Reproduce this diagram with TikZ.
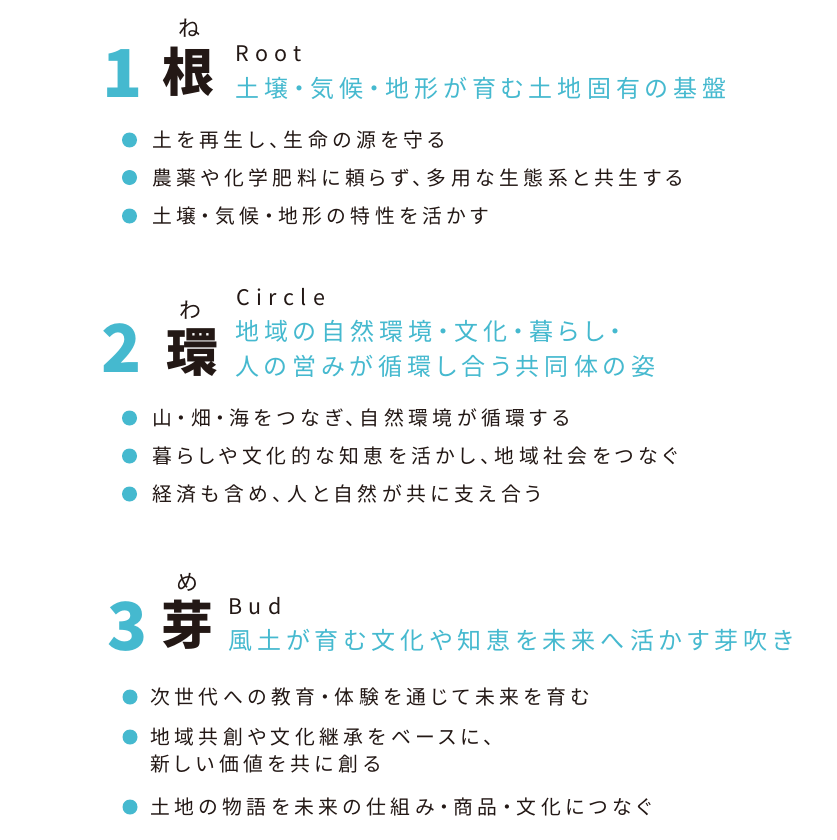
\documentclass[tikz,border=0pt]{standalone}
\usepackage{fontspec}
\setmainfont{Noto Sans CJK JP}
\newfontfamily\itemfont[RawFeature=+palt,LetterSpace=23]{Noto Sans CJK JP}
\newfontfamily\leadfont[RawFeature=+palt,LetterSpace=21]{Noto Sans CJK JP}
\newfontfamily\engfont[LetterSpace=30]{Noto Sans CJK JP}
\definecolor{leadblue}{HTML}{45B9CF}
\definecolor{inkdark}{HTML}{231815}
\tikzset{
  numlabel/.style={text=leadblue, font=\fontsize{66}{70}\selectfont\bfseries, inner sep=0},
  kanji/.style={text=inkdark, font=\fontsize{52}{54}\selectfont\bfseries, inner sep=0},
  ruby/.style={text=inkdark, font=\fontsize{22}{24}\selectfont, inner sep=0},
  eng/.style={text=inkdark, font=\engfont\fontsize{21.5}{24}\selectfont, anchor=west, inner sep=0},
  lead/.style={text=leadblue, font=\leadfont\fontsize{24}{28}\selectfont, anchor=west, inner sep=0},
  item/.style={text=inkdark, font=\itemfont\fontsize{19.8}{28}\selectfont, anchor=west, inner sep=0},
  bulletdot/.style={circle, fill=leadblue, minimum size=15pt, inner sep=0}
}
\begin{document}
\begin{tikzpicture}[x=1pt, y=-1pt]
\useasboundingbox[fill=white] (0,0) rectangle (837,840);
% Root
\node[ruby] (ne) at (189,28) {ね};
\node[numlabel] (n1) at (123,74) {1};
\node[kanji] (root) at (188,72) {根};
\node[eng] (rooten) at (235,54) {Root};
\node[lead] (rootlead) at (235,88) {土壌・気候・地形が育む土地固有の基盤};
\node[bulletdot] (b11) at (129.5,140) {};
\node[item] (t11) at (152,140) {土を再生し、生命の源を守る};
\node[bulletdot] (b12) at (129.5,177.5) {};
\node[item] (t12) at (152,177.5) {農薬や化学肥料に頼らず、多用な生態系と共生する};
\node[bulletdot] (b13) at (129.5,216) {};
\node[item] (t13) at (152,216) {土壌・気候・地形の特性を活かす};
% Circle
\node[ruby] (wa) at (190,310) {わ};
\node[numlabel] (n2) at (122,348) {2};
\node[kanji] (circ) at (192,353) {環};
\node[eng] (circen) at (236,297) {Circle};
\node[lead] (circlead) at (235,331) {地域の自然環境・文化・暮らし・};
\node[lead] (circleadb) at (235,366) {人の営みが循環し合う共同体の姿};
\node[bulletdot] (b21) at (129.5,418) {};
\node[item] (t21) at (152,418) {山・畑・海をつなぎ、自然環境が循環する};
\node[bulletdot] (b22) at (129.5,456) {};
\node[item] (t22) at (152,456) {暮らしや文化的な知恵を活かし、地域社会をつなぐ};
\node[bulletdot] (b23) at (129.5,494) {};
\node[item] (t23) at (152,494) {経済も含め、人と自然が共に支え合う};
% Bud
\node[ruby] (me) at (187,582) {め};
\node[numlabel] (n3) at (128,627) {3};
\node[kanji] (bud) at (187,625) {芽};
\node[eng] (buden) at (228,606) {Bud};
\node[lead] (budlead) at (228,640) {風土が育む文化や知恵を未来へ活かす芽吹き};
\node[bulletdot] (b31) at (130,697) {};
\node[item] (t31) at (150,697) {次世代への教育・体験を通じて未来を育む};
\node[bulletdot] (b32) at (130,737) {};
\node[item] (t32) at (150,737) {地域共創や文化継承をベースに、};
\node[item] (t32b) at (150,764) {新しい価値を共に創る};
\node[bulletdot] (b33) at (130,807) {};
\node[item] (t33) at (150,807) {土地の物語を未来の仕組み・商品・文化につなぐ};
\end{tikzpicture}
\end{document}
